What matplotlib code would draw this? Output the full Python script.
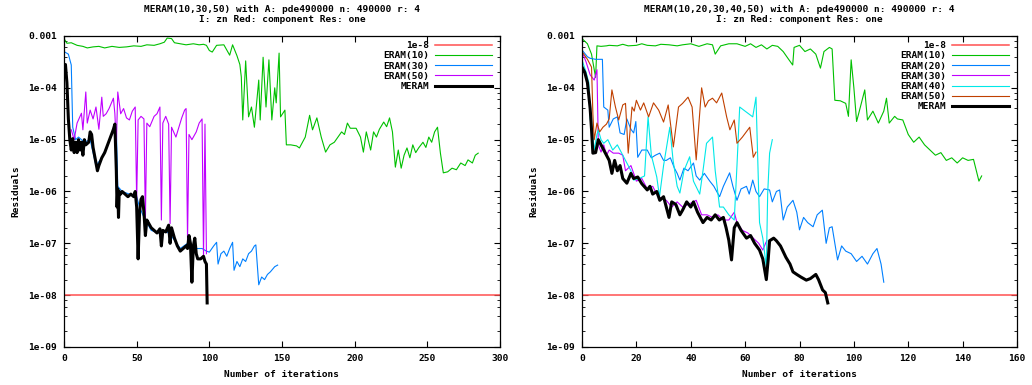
import numpy as np
import matplotlib
matplotlib.use('Agg')
from matplotlib import pyplot as plt
from matplotlib.ticker import LogLocator

# residuals are stored as log10 exponents

# ---- left plot: MERAM(10,30,50) ----
left_x_ticks = [0, 50, 100, 150, 200, 250, 300]
left_x_max = 300

l_eram10_it = [0, 2, 5, 9, 13, 16, 20, 24, 28, 33, 38, 43, 48, 53, 57, 62, 66, 69, 71, 74, 76, 80, 84, 89,
               93, 96, 98, 100, 102, 105, 110, 114, 116, 119, 121, 122, 123, 125, 127, 129, 131, 134, 135,
               137, 139, 141, 143, 145, 146, 148, 149, 152, 153, 156, 160, 162, 166, 169, 171, 174, 177,
               180, 183, 186, 188, 191, 193, 195, 197, 201, 204, 206, 208, 211, 213, 215, 217, 220, 222,
               224, 226, 228, 230, 232, 234, 236, 238, 240, 242, 244, 247, 249, 251, 253, 255, 257, 259,
               261, 264, 267, 270, 273, 276, 278, 281, 283, 285]
l_eram10_lg = [-3.05, -3.14, -3.13, -3.18, -3.20, -3.23, -3.21, -3.20, -3.23, -3.20, -3.22, -3.21, -3.19,
               -3.20, -3.17, -3.18, -3.15, -3.12, -3.04, -3.05, -3.13, -3.15, -3.17, -3.15, -3.17, -3.16,
               -3.18, -3.28, -3.31, -3.18, -3.17, -3.37, -3.17, -3.38, -3.55, -3.79, -4.62, -3.48, -4.56,
               -4.37, -4.76, -3.85, -4.62, -3.41, -4.37, -3.46, -4.62, -4.00, -4.29, -3.33, -4.56, -4.43,
               -5.10, -5.10, -5.12, -5.16, -4.95, -4.53, -4.81, -4.58, -4.95, -5.24, -5.10, -5.05, -4.97,
               -4.85, -4.90, -4.68, -4.78, -4.78, -4.95, -5.24, -4.85, -5.20, -4.85, -4.95, -4.80, -4.66,
               -4.75, -4.58, -4.85, -5.53, -5.20, -5.55, -5.30, -5.16, -5.35, -5.10, -5.25, -5.16, -5.05,
               -5.15, -4.95, -5.05, -4.85, -4.76, -5.26, -5.64, -5.62, -5.55, -5.58, -5.45, -5.50, -5.39,
               -5.45, -5.30, -5.26]

l_eram30_it = [0, 3, 5, 6, 8, 10, 14, 18, 22, 26, 30, 34, 36, 37, 40, 45, 50, 52, 55, 60, 65, 70, 75, 80,
               85, 90, 95, 98, 100, 103, 105, 106, 108, 110, 112, 114, 116, 117, 119, 121, 123, 125, 127,
               129, 131, 132, 134, 136, 138, 140, 142, 145, 147]
l_eram30_lg = [-3.30, -3.35, -3.56, -4.76, -5.00, -4.95, -5.05, -5.00, -5.50, -5.35, -5.10, -4.80, -4.75,
               -5.90, -6.00, -6.05, -6.10, -6.30, -6.50, -6.75, -6.80, -6.75, -6.90, -7.10, -7.00, -7.10,
               -7.10, -7.15, -7.17, -7.05, -6.98, -7.40, -7.20, -7.15, -7.25, -7.10, -6.98, -7.52, -7.35,
               -7.45, -7.30, -7.35, -7.20, -7.15, -7.05, -7.03, -7.80, -7.65, -7.70, -7.60, -7.55, -7.45,
               -7.42]

l_eram50_it = [5, 7, 9, 12, 13, 15, 16, 18, 20, 22, 24, 26, 27, 29, 31, 34, 35, 36, 37, 39, 41, 43, 45, 47,
               49, 50, 51, 53, 55, 56, 57, 59, 62, 64, 66, 67, 68, 70, 72, 73, 74, 77, 81, 83, 84, 85, 86,
               88, 91, 93, 95, 96, 97, 98]
l_eram50_lg = [-4.81, -5.00, -4.68, -4.49, -4.81, -4.08, -4.68, -4.43, -4.60, -4.37, -4.80, -4.18, -4.55,
               -4.50, -4.40, -4.20, -4.50, -5.10, -4.08, -4.50, -4.40, -4.58, -4.62, -4.45, -4.37, -6.17,
               -4.62, -4.55, -4.60, -6.55, -4.68, -4.75, -4.55, -4.50, -4.37, -6.55, -4.68, -4.55, -4.70,
               -6.62, -4.76, -4.95, -4.58, -4.43, -4.40, -6.94, -4.90, -5.00, -4.85, -4.68, -4.60, -7.27,
               -4.70, -7.20]

l_meram_it = [0, 1, 2, 3, 4, 5, 6, 7, 8, 9, 10, 11, 12, 13, 14, 15, 17, 18, 19, 20, 22, 23, 24, 26, 28, 30,
              32, 34, 35, 36, 36.5, 37, 37.5, 38, 39, 40, 44, 46, 48, 49, 50, 51, 52, 53, 54, 55, 56, 57,
              58, 60, 62, 64, 66, 67, 68, 70, 72, 73, 74, 76, 78, 80, 82, 84, 85, 86, 87, 88, 89, 90, 91,
              92, 94, 96, 97, 98, 98.5]
l_meram_lg = [-3.60, -3.55, -3.90, -4.60, -5.00, -5.20, -4.98, -5.25, -5.05, -5.25, -5.00, -5.20, -5.05,
              -5.30, -5.00, -5.10, -5.05, -4.85, -4.90, -5.15, -5.45, -5.60, -5.50, -5.35, -5.25, -5.10,
              -4.95, -4.80, -4.70, -5.60, -6.30, -5.95, -6.50, -6.00, -6.05, -6.00, -6.10, -6.05, -6.10,
              -6.00, -6.30, -7.30, -6.40, -6.15, -6.10, -6.40, -6.85, -6.55, -6.60, -6.70, -6.75, -6.80,
              -6.72, -7.05, -6.75, -6.78, -6.65, -7.00, -6.70, -6.90, -7.05, -7.15, -7.10, -7.05, -7.10,
              -6.85, -7.00, -7.75, -7.05, -6.90, -7.20, -7.30, -7.30, -7.25, -7.35, -7.40, -8.15]

# ---- right plot: MERAM(10,20,30,40,50) ----
right_x_ticks = [0, 20, 40, 60, 80, 100, 120, 140, 160]
right_x_max = 160

r_eram10_it = [0, 2, 3.5, 5, 5.5, 7, 9, 10, 13, 15, 17, 20, 22, 24, 27, 29, 32, 35, 37, 40, 43, 46, 48,
               49, 51, 54, 57, 60, 62, 64, 66, 68, 70, 72, 74, 76, 77.5, 78, 80, 82, 84, 86, 87.7, 89, 91,
               92, 93, 95, 97, 98, 99, 100, 101, 102, 104, 105, 107, 109, 111, 112, 113, 115, 116, 118,
               120, 122, 124, 126, 128, 130, 132, 134, 136, 138, 140, 142, 144, 146, 147]
r_eram10_lg = [-3.05, -3.15, -3.35, -3.80, -3.19, -3.20, -3.19, -3.18, -3.19, -3.16, -3.19, -3.18, -3.15,
               -3.18, -3.19, -3.16, -3.17, -3.19, -3.17, -3.15, -3.20, -3.15, -3.17, -3.35, -3.19, -3.15,
               -3.15, -3.20, -3.15, -3.22, -3.17, -3.25, -3.18, -3.20, -3.30, -3.45, -3.56, -3.22, -3.18,
               -3.30, -3.25, -3.35, -3.62, -3.30, -3.22, -3.25, -4.24, -4.25, -4.30, -4.55, -3.46, -4.00,
               -4.65, -4.45, -4.04, -4.62, -4.45, -4.68, -4.45, -4.20, -4.68, -4.55, -4.60, -4.62, -4.90,
               -5.05, -4.95, -5.10, -5.20, -5.30, -5.25, -5.40, -5.35, -5.45, -5.35, -5.40, -5.38, -5.80,
               -5.70]

r_eram20_it = [0, 2, 3, 5, 7.5, 8, 9.5, 10, 11.5, 13, 14, 15.5, 16.5, 18, 19, 19.8, 20.5, 22, 24, 25.5, 27,
               28.6, 30, 31, 32.5, 34, 35, 36, 37.5, 39, 41, 42, 43.3, 45, 47, 48.5, 50.6, 52, 54.3, 55.5,
               57, 58.5, 60.5, 61.5, 62.8, 64, 65.3, 67, 69, 70, 71.5, 72.7, 74, 75.5, 77.6, 79, 80, 81.5,
               83, 85, 86.5, 88.4, 89.8, 91, 92, 94, 95.5, 97, 99, 101, 103, 105, 107, 108.5, 110, 111]
r_eram20_lg = [-3.27, -3.40, -3.43, -3.45, -3.45, -4.37, -4.43, -4.76, -4.60, -4.56, -4.87, -4.90, -4.60,
               -4.80, -4.87, -4.65, -5.34, -5.20, -5.20, -5.35, -5.30, -5.26, -5.40, -5.40, -5.35, -5.55,
               -5.65, -5.78, -5.55, -5.60, -5.45, -5.70, -5.78, -5.65, -5.80, -5.90, -6.10, -5.90, -5.64,
               -5.90, -6.17, -5.95, -5.90, -6.05, -5.78, -6.00, -6.10, -5.95, -5.97, -6.20, -6.00, -5.97,
               -6.55, -6.30, -6.17, -6.40, -6.74, -6.50, -6.60, -6.68, -6.45, -6.36, -7.00, -6.70, -6.68,
               -7.32, -7.05, -7.15, -7.20, -7.35, -7.25, -7.40, -7.20, -7.10, -7.40, -7.75]

r_eram30_it = [0, 1.5, 3, 4.5, 5.5, 6, 7, 8, 9, 10, 11.5, 13.5, 15, 16, 18, 20, 22, 24, 26, 28, 30, 31, 33,
               35, 37, 39, 41, 42, 44, 46, 48, 50, 52, 54, 56, 57, 59, 61, 63, 65, 66.5, 67.5, 68]
r_eram30_lg = [-3.30, -3.50, -3.75, -3.85, -3.65, -5.10, -5.24, -5.10, -5.30, -5.20, -5.26, -5.26, -5.30,
               -5.60, -5.50, -5.80, -5.75, -5.95, -5.90, -6.10, -6.15, -6.17, -6.30, -6.20, -6.30, -6.25,
               -6.20, -6.17, -6.45, -6.45, -6.50, -6.45, -6.55, -6.55, -6.40, -6.60, -6.75, -6.80, -6.90,
               -7.00, -7.13, -7.00, -6.95]

r_eram40_it = [0, 1.5, 2.5, 3, 3.7, 4.5, 5.5, 6, 7, 8, 9.5, 11.3, 13, 14.5, 16.5, 18, 19, 21, 23, 24.3,
               25.5, 27.5, 28.5, 30, 32.3, 33.5, 35, 36, 37.5, 39.6, 41, 43.3, 44.5, 45.8, 48, 49, 50.6, 52,
               54, 56, 57, 58, 60, 62.8, 64, 65.3, 66.5, 67.8, 68.3, 69, 70]
r_eram40_lg = [-3.46, -3.70, -3.90, -4.60, -4.80, -5.20, -4.90, -4.81, -5.00, -5.07, -5.00, -5.20, -5.10,
               -5.25, -5.45, -5.60, -5.78, -5.75, -5.70, -4.56, -5.30, -5.72, -6.10, -5.50, -4.76, -5.40,
               -5.90, -6.03, -5.60, -5.33, -5.80, -6.05, -5.60, -5.07, -4.95, -5.60, -6.30, -6.30, -6.45,
               -6.55, -5.50, -4.37, -4.45, -4.56, -4.18, -6.60, -6.90, -7.46, -6.03, -5.26, -5.00]

r_eram50_it = [0, 2, 3.5, 4, 4.5, 5.5, 6.5, 7.7, 9, 10, 11, 12.3, 13.5, 15, 16, 17, 18.4, 19.2, 20, 21.5,
               22.7, 24.5, 26.3, 28.2, 30, 31.7, 33.6, 35.5, 37, 39, 40.5, 42, 44, 45.3, 46.5, 48, 49.5, 51.4,
               53.2, 54.4, 56, 57, 59, 61.7, 63, 64]
r_eram50_lg = [-3.30, -3.45, -3.60, -4.50, -5.00, -4.68, -4.85, -4.76, -4.70, -4.60, -4.04, -4.37, -4.62,
               -4.33, -4.30, -5.26, -4.37, -4.45, -4.24, -4.43, -4.29, -4.56, -4.29, -4.43, -4.66, -4.33,
               -5.14, -4.37, -4.30, -4.18, -4.37, -5.39, -4.00, -4.37, -4.25, -4.20, -4.29, -4.10, -4.56,
               -4.81, -4.62, -5.07, -4.95, -4.76, -5.34, -5.24]

r_meram_it = [0, 1, 2, 3, 3.5, 4, 5, 6, 7, 8, 9, 10, 11, 12, 13, 14, 15, 16.5, 18, 19, 20.5, 22, 24, 25,
              26, 27.5, 28.6, 30, 31, 32, 33, 34.5, 36, 37, 38.5, 40, 41, 42.5, 44.5, 46, 47.5, 49, 50.5,
              52, 53, 54, 55, 56, 57, 58.5, 60.5, 62, 63.5, 65.3, 66.5, 67.8, 68.5, 69, 70.5, 71.5, 73, 75,
              76.5, 77.6, 79, 80.5, 82.5, 84, 86, 87, 88.5, 89.5, 90.4]
r_meram_lg = [-3.60, -3.70, -3.90, -4.40, -4.80, -5.26, -5.25, -5.00, -5.10, -5.20, -5.30, -5.40, -5.65,
              -5.40, -5.60, -5.50, -5.75, -5.84, -5.65, -5.75, -5.72, -5.85, -5.97, -5.90, -6.05, -6.00,
              -6.17, -6.10, -6.30, -6.50, -6.20, -6.25, -6.45, -6.36, -6.20, -6.30, -6.20, -6.40, -6.60,
              -6.50, -6.55, -6.45, -6.55, -6.50, -6.70, -6.94, -7.32, -6.70, -6.60, -6.75, -6.90, -6.85,
              -7.00, -7.13, -7.30, -7.70, -7.30, -6.95, -6.90, -6.95, -7.05, -7.27, -7.40, -7.55, -7.60,
              -7.65, -7.71, -7.68, -7.60, -7.70, -7.90, -7.95, -8.15]

tol = 1e-8
y_ticks = [1e-9, 1e-8, 1e-7, 1e-6, 1e-5, 1e-4, 1e-3]
y_tick_labels = ['1e-09', '1e-08', '1e-07', '1e-06', '1e-05', '1e-04', '0.001']

C_RED = '#ff5050'
C_GREEN = '#00c000'
C_BLUE = '#0080ff'
C_MAG = '#c000ff'
C_CYAN = '#00e8e8'
C_BROWN = '#c04000'

FS = 6.8
plt.rcParams['font.family'] = 'DejaVu Sans Mono'
plt.rcParams['font.weight'] = 'bold'
plt.rcParams['font.size'] = FS

fig = plt.figure(figsize=(10.32, 3.85), dpi=100)
ax1 = fig.add_axes([64/1032, 38/385, 436/1032, 311/385])
ax2 = fig.add_axes([582/1032, 38/385, 435/1032, 311/385])


def setup(ax, xmax, xticks, title):
    ax.set_yscale('log')
    ax.set_xlim(0, xmax)
    ax.set_ylim(1e-9, 1e-3)
    ax.set_xticks(xticks)
    ax.set_yticks(y_ticks)
    ax.set_yticklabels(y_tick_labels)
    ax.yaxis.set_minor_locator(LogLocator(base=10, subs=(2, 4, 6, 8)))
    ax.yaxis.set_minor_formatter(plt.NullFormatter())
    ax.tick_params(which='both', direction='in', top=True, right=True, labelsize=FS, pad=5)
    ax.tick_params(which='major', length=4, width=0.8)
    ax.tick_params(which='minor', length=2, width=0.6)
    ax.set_xlabel('Number of iterations', fontsize=FS, fontweight='bold', labelpad=5)
    ax.set_ylabel('Residuals', fontsize=FS, fontweight='bold', labelpad=6)
    ax.set_title(title, fontsize=FS, fontweight='bold', pad=10, linespacing=1.15)
    for s in ax.spines.values():
        s.set_linewidth(0.9)
    ax.plot([0, xmax], [tol, tol], color=C_RED, lw=1.1, label='1e-8')


def line(ax, it, lg, color, label, lw=0.8):
    ax.plot(it, 10.0 ** np.array(lg), color=color, lw=lw, label=label)


setup(ax1, left_x_max, left_x_ticks,
      'MERAM(10,30,50) with A: pde490000 n: 490000 r: 4\nI: zn Red: component Res: one')
line(ax1, l_eram10_it, l_eram10_lg, C_GREEN, 'ERAM(10)')
line(ax1, l_eram30_it, l_eram30_lg, C_BLUE, 'ERAM(30)')
line(ax1, l_eram50_it, l_eram50_lg, C_MAG, 'ERAM(50)')
line(ax1, l_meram_it, l_meram_lg, 'black', 'MERAM', lw=2.2)

setup(ax2, right_x_max, right_x_ticks,
      'MERAM(10,20,30,40,50) with A: pde490000 n: 490000 r: 4\nI: zn Red: component Res: one')
line(ax2, r_eram10_it, r_eram10_lg, C_GREEN, 'ERAM(10)')
line(ax2, r_eram20_it, r_eram20_lg, C_BLUE, 'ERAM(20)')
line(ax2, r_eram30_it, r_eram30_lg, C_MAG, 'ERAM(30)')
line(ax2, r_eram40_it, r_eram40_lg, C_CYAN, 'ERAM(40)')
line(ax2, r_eram50_it, r_eram50_lg, C_BROWN, 'ERAM(50)')
line(ax2, r_meram_it, r_meram_lg, 'black', 'MERAM', lw=2.2)

for ax in (ax1, ax2):
    leg = ax.legend(loc='upper right', bbox_to_anchor=(0.99, 0.995), frameon=False, markerfirst=False,
                    handlelength=6.0, labelspacing=0.12, borderaxespad=0.2, handletextpad=0.6,
                    borderpad=0.2, prop={'family': 'DejaVu Sans Mono', 'weight': 'bold', 'size': FS})
    for t in leg.get_texts():
        t.set_ha('right')

plt.savefig('out.png', dpi=100)
